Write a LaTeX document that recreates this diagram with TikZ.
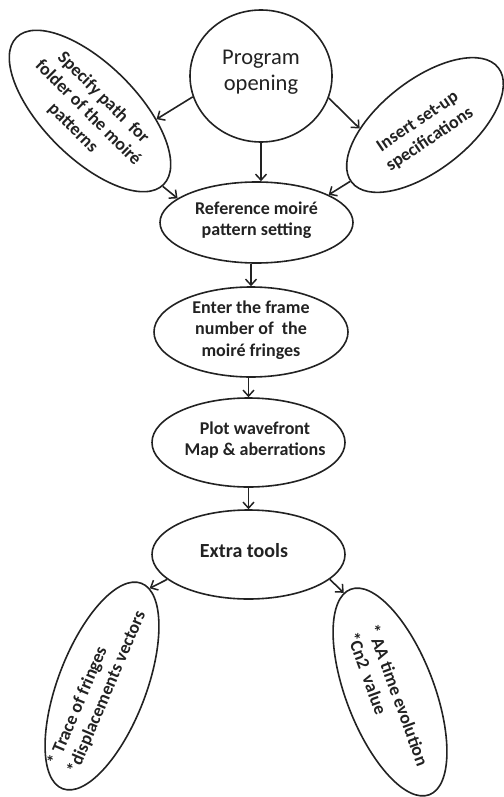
\documentclass[tikz,border=0pt]{standalone}
\usepackage{fontspec}
\setmainfont{Carlito}
\usetikzlibrary{shapes.geometric,arrows.meta}
\definecolor{ink}{HTML}{222222}
\begin{document}
\begin{tikzpicture}[x=1pt,y=-1pt,
  oval/.style={draw=ink, line width=1.6pt, ellipse, inner sep=0pt},
  lbl/.style={align=center, inner sep=0pt, text=ink, font=\fontsize{18}{21.5}\selectfont\bfseries},
  arr/.style={draw=ink, line width=1.6pt, -{Straight Barb[length=6pt,width=11pt,line width=1.5pt]}}]
\useasboundingbox (0,0) rectangle (503,797);
% shapes
\node[oval, minimum width=142pt, minimum height=132pt] (prog) at (261,76) {};
\node[oval, minimum width=208pt, minimum height=94pt, rotate=-45] (spec) at (90,111) {};
\node[oval, minimum width=186pt, minimum height=90pt, rotate=38] (ins) at (425,125) {};
\node[oval, minimum width=193pt, minimum height=81pt] (ref) at (256.5,222.5) {};
\node[oval, minimum width=194pt, minimum height=90pt] (enter) at (251,332) {};
\node[oval, minimum width=193pt, minimum height=89pt] (plot) at (248.5,442.5) {};
\node[oval, minimum width=193pt, minimum height=89pt] (extra) at (248.5,554.5) {};
\node[oval, minimum width=220pt, minimum height=88pt, rotate=69] (trace) at (102,686) {};
\node[oval, minimum width=220pt, minimum height=88pt, rotate=-69] (aa) at (390,692) {};
% texts
\node[lbl, font=\fontsize{22.5}{26}\selectfont] (progT) at (261,72) {Program\\opening};
\node[lbl, rotate=-45] (specT) at (88,113) {Specify path\ \ for\\folder of the moiré\\patterns};
\node[lbl, rotate=34] (insT) at (424,131) {Insert set-up\\specifications};
\node[lbl] (refT) at (256.5,220) {Reference moiré\\pattern setting};
\node[lbl] (enterT) at (251,330) {Enter the frame\\number of\ \ the\\moiré fringes};
\node[lbl] (plotT) at (255,440) {Plot wavefront\\Map \& aberrations};
\node[lbl, font=\fontsize{20}{24}\selectfont\bfseries] (extraT) at (244,551) {Extra tools};
\node[lbl, rotate=67, align=left] (traceT) at (97,688) {* Trace of fringes\\*displacements vectors};
\node[lbl, rotate=-70, align=left] (aaT) at (388,699) {* AA time evolution\\*Cn2\ \ value};
% connectors
\draw[arr] (prog.197) -- (spec.38);
\draw[arr] (prog.342) -- (ins.145);
\draw[arr] (prog.south) -- (prog.south |- ref.north);
\draw[arr] (spec.-1) -- (ref.163);
\draw[arr] (ins.179) -- (ref.21);
\draw[arr] (enter.north |- ref.south) -- (enter.north);
\draw[arr] (plot.north |- enter.south) -- (plot.north);
\draw[arr] (plot.south) -- (extra.north);
\draw[arr] (extra.197) -- (trace.-5);
\draw[arr] (extra.343) -- (aa.184);
\end{tikzpicture}
\end{document}
